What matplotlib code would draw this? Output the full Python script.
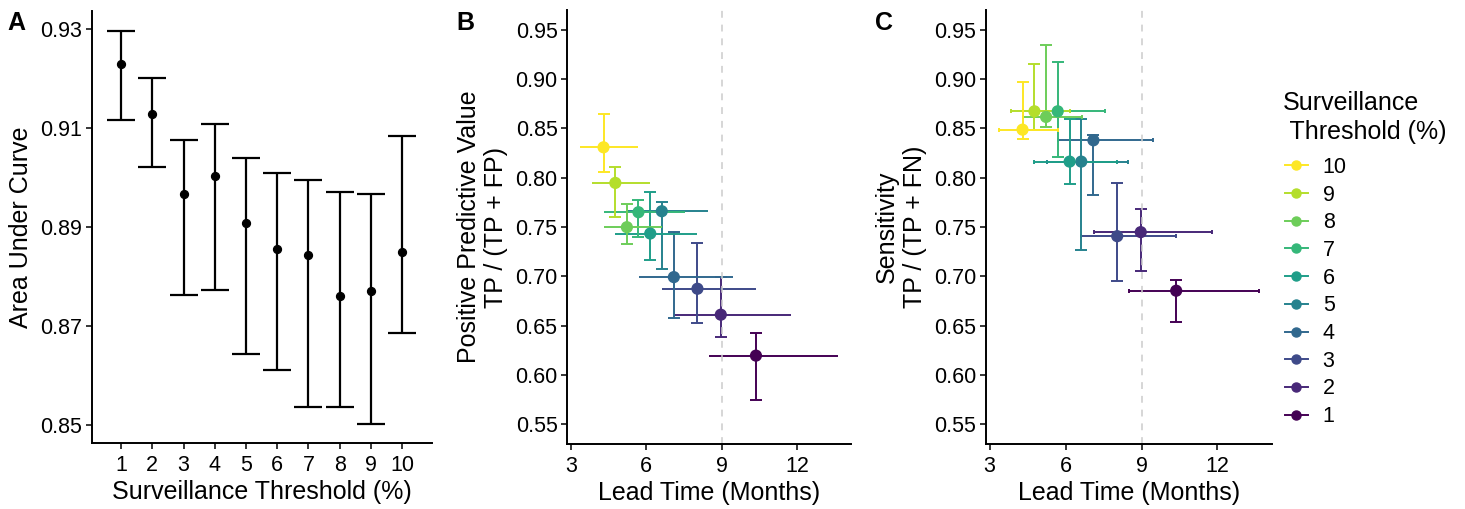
import matplotlib
matplotlib.use("Agg")
import matplotlib.pyplot as plt
from matplotlib.lines import Line2D

plt.rcParams['font.family'] = ['Liberation Sans', 'DejaVu Sans']

# surveillance thresholds (%)
thresholds = [1, 2, 3, 4, 5, 6, 7, 8, 9, 10]

# panel A - area under curve with interval
auc = [0.9230, 0.9128, 0.8967, 0.9003, 0.8908, 0.8856, 0.8844, 0.8760, 0.8771, 0.8849]
auc_low = [0.9116, 0.9021, 0.8763, 0.8773, 0.8644, 0.8612, 0.8537, 0.8536, 0.8503, 0.8686]
auc_high = [0.9297, 0.9202, 0.9076, 0.9108, 0.9039, 0.9009, 0.8995, 0.8971, 0.8968, 0.9084]

# lead time in months (same for B and C)
lead = [10.37, 8.97, 8.04, 7.10, 6.62, 6.16, 5.69, 5.23, 4.77, 4.30]
lead_low = [8.51, 7.12, 6.62, 5.70, 5.25, 4.77, 4.30, 4.30, 3.84, 3.37]
lead_high = [13.63, 11.78, 10.38, 9.46, 8.48, 8.02, 7.56, 6.64, 6.17, 5.69]

# panel B - positive predictive value
ppv = [0.6196, 0.6611, 0.6874, 0.6992, 0.7660, 0.7434, 0.7650, 0.7498, 0.7947, 0.8308]
ppv_low = [0.5750, 0.6381, 0.6523, 0.6577, 0.7077, 0.7161, 0.7397, 0.7330, 0.7603, 0.8055]
ppv_high = [0.6422, 0.6996, 0.7340, 0.7448, 0.7751, 0.7853, 0.7778, 0.7738, 0.8109, 0.8642]

# panel C - sensitivity
sens = [0.6854, 0.7448, 0.7407, 0.8379, 0.8163, 0.8163, 0.8673, 0.8616, 0.8673, 0.8487]
sens_low = [0.6536, 0.7053, 0.6948, 0.7822, 0.7265, 0.7937, 0.8211, 0.8514, 0.8481, 0.8393]
sens_high = [0.6962, 0.7684, 0.7947, 0.8433, 0.8595, 0.8595, 0.9176, 0.9345, 0.9156, 0.8970]

# viridis, 10 levels
cols = ['#440154', '#482878', '#3E4A89', '#31688E', '#26828E',
        '#1F9E89', '#35B779', '#6DCD59', '#B4DE2C', '#FDE725']

W, H = 1465, 509
fig = plt.figure(figsize=(W / 100, H / 100), dpi=100)


def px_axes(left, top, right, bottom):
    return fig.add_axes([left / W, 1 - bottom / H, (right - left) / W, (bottom - top) / H])


def style(ax):
    for s in ['top', 'right']:
        ax.spines[s].set_visible(False)
    for s in ['left', 'bottom']:
        ax.spines[s].set_linewidth(1.4)
    ax.tick_params(labelsize=15.5, length=4, width=1.1, pad=3, colors='black')
    ax.tick_params(axis='x', pad=4.5)


# ---- A ----
axA = px_axes(91.5, 11, 431.7, 443.3)
style(axA)
for i, t in enumerate(thresholds):
    axA.errorbar(t, auc[i], yerr=[[auc[i] - auc_low[i]], [auc_high[i] - auc[i]]],
                 fmt='none', ecolor='black', elinewidth=1.6, capsize=9.8, capthick=1.6)
axA.scatter(thresholds, auc, s=32, color='black', zorder=3)
axA.set_xlim(0.055, 10.945)
axA.set_ylim(0.8463, 0.9337)
axA.set_xticks(thresholds)
axA.set_yticks([0.85, 0.87, 0.89, 0.91, 0.93])
axA.set_yticklabels(['0.85', '0.87', '0.89', '0.91', '0.93'])
axA.set_xlabel('Surveillance Threshold (%)', fontsize=18, labelpad=3)
axA.set_ylabel('Area Under Curve', fontsize=18, labelpad=5)


def lead_panel(ax, vals, low, high, xcap, ylabel):
    style(ax)
    for i in range(len(thresholds)):
        ax.errorbar(lead[i], vals[i], yerr=[[vals[i] - low[i]], [high[i] - vals[i]]],
                    fmt='none', ecolor=cols[i], elinewidth=1.4, capsize=4, capthick=1.4, zorder=2)
        ax.errorbar(lead[i], vals[i], xerr=[[lead[i] - lead_low[i]], [lead_high[i] - lead[i]]],
                    fmt='none', ecolor=cols[i], elinewidth=1.4, capsize=xcap, capthick=1.4, zorder=2)
    ax.axvline(9, color='#CCCCCC', lw=1.1, dashes=(4.5, 4.5), zorder=2.5)
    ax.scatter(lead, vals, s=60, c=cols, zorder=3)
    ax.set_xlim(2.857, 14.143)
    ax.set_ylim(0.53, 0.97)
    ax.set_xticks([3, 6, 9, 12])
    yt = [0.55, 0.60, 0.65, 0.70, 0.75, 0.80, 0.85, 0.90, 0.95]
    ax.set_yticks(yt)
    ax.set_yticklabels(['%.2f' % v for v in yt])
    ax.set_xlabel('Lead Time (Months)', fontsize=18, labelpad=3)
    ax.set_ylabel(ylabel, fontsize=18, labelpad=5, linespacing=1.2)


axB = px_axes(567.3, 10, 850.7, 444)
lead_panel(axB, ppv, ppv_low, ppv_high, 0, 'Positive Predictive Value\nTP / (TP + FP)')

axC = px_axes(986, 10, 1271.7, 444)
lead_panel(axC, sens, sens_low, sens_high, 1.2, 'Sensitivity\nTP / (TP + FN)')

# panel tags
for lab, x in [('A', 7), ('B', 456), ('C', 875)]:
    fig.text(x / W, 1 - 30.5 / H, lab, fontsize=18, fontweight='bold', va='baseline')

# legend, highest threshold first
fig.text(1283 / W, 1 - 138.5 / H, 'Surveillance\n Threshold (%)', fontsize=18,
         va='baseline', ha='left', linespacing=1.24)
handles = [Line2D([0], [0], color=cols[i], lw=1.4, marker='o', markersize=6.5)
           for i in range(9, -1, -1)]
labels = [str(thresholds[i]) for i in range(9, -1, -1)]
leg = fig.legend(handles, labels, loc='upper left', bbox_to_anchor=(1285 / W, 1 - 157 / H),
                 frameon=False, fontsize=15.5,
                 handlelength=1.05, handletextpad=0.7, labelspacing=0.31,
                 borderaxespad=0, borderpad=0)

fig.savefig('out.png', dpi=100)
